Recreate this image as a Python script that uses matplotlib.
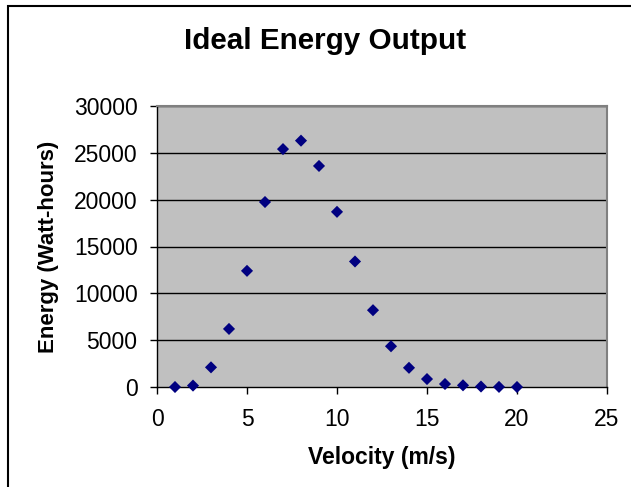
import matplotlib
matplotlib.use('Agg')
import matplotlib.pyplot as plt
from matplotlib.patches import Rectangle

plt.rcParams['font.family'] = ['Liberation Sans', 'DejaVu Sans']

# data
velocity = [1, 2, 3, 4, 5, 6, 7, 8, 9, 10, 11, 12, 13, 14, 15, 16, 17, 18, 19, 20]
energy = [0, 150, 2100, 6200, 12400, 19750, 25400, 26300, 23600, 18700,
          13400, 8200, 4350, 2050, 850, 320, 180, 50, 10, 0]
x_ticks = [0, 5, 10, 15, 20, 25]
y_ticks = [0, 5000, 10000, 15000, 20000, 25000, 30000]

fig = plt.figure(figsize=(6.31, 4.87), dpi=100)

# outer chart frame (only left and top visible in the crop)
fig.patches.append(Rectangle((8 / 631, -0.1), 1.2, 1.1 - 6 / 487,
                             transform=fig.transFigure, fill=False,
                             edgecolor='black', linewidth=1.5))

ax = fig.add_axes([157 / 631, 1 - 387 / 487, 450 / 631, 281 / 487])
ax.set_facecolor('#C0C0C0')

for y in y_ticks[1:]:
    ax.axhline(y, color='black', linewidth=1.0, zorder=1)

ax.scatter(velocity, energy, marker='D', s=38, color='#000080',
           edgecolors='none', zorder=3, clip_on=False)

ax.set_xlim(0, 25)
ax.set_ylim(0, 30000)
ax.set_xticks(x_ticks)
ax.set_yticks(y_ticks)
ax.tick_params(labelsize=16.5, length=5, width=1, color='black')
ax.tick_params(axis='y', pad=9)
ax.tick_params(axis='x', pad=10)

for side in ['top', 'right']:
    ax.spines[side].set_color('#808080')
    ax.spines[side].set_linewidth(1.5)
for side in ['left', 'bottom']:
    ax.spines[side].set_color('black')
    ax.spines[side].set_linewidth(1.0)

ax.set_xlabel('Velocity (m/s)', fontsize=16.5, fontweight='bold', labelpad=11)
ax.set_ylabel('Energy (Watt-hours)', fontsize=16, fontweight='bold', labelpad=11)
fig.text(325 / 631, 1 - 41 / 487, 'Ideal Energy Output', fontsize=21.3,
         fontweight='bold', ha='center', va='center')

fig.savefig('out.png', dpi=100)
